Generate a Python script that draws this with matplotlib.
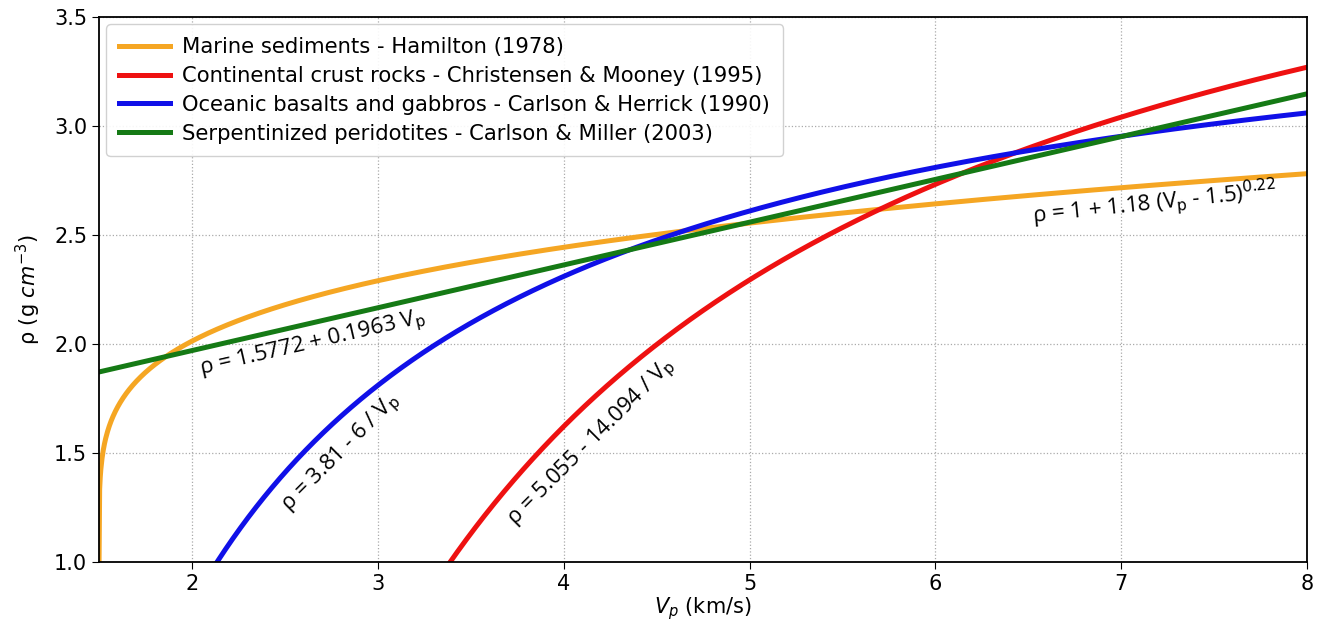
import numpy as np
import matplotlib
matplotlib.use("Agg")
import matplotlib.pyplot as plt

# Empirical Vp - density relations
vp_min, vp_max = 1.5, 8.0
hamilton_coef = [1.0, 1.18, 1.5, 0.22]        # rho = a + b (Vp - c)^d
# red curve: rho = a - b / (Vp + s)
# (the printed label says 5.055 - 14.094/Vp, but the drawn line sits differently)
christensen_traced = [4.814, 11.966, -0.252]
carlson_herrick_coef = [3.81, 6.0]            # rho = a - b / Vp
carlson_miller_coef = [1.5772, 0.1963]        # rho = a + b Vp

labels = [
    "Marine sediments - Hamilton (1978)",
    "Continental crust rocks - Christensen & Mooney (1995)",
    "Oceanic basalts and gabbros - Carlson & Herrick (1990)",
    "Serpentinized peridotites - Carlson & Miller (2003)",
]
colors = ["#f5a623", "#ee1111", "#1010e8", "#157a15"]

vp = np.linspace(vp_min, vp_max, 2000)
a, b, c, d = hamilton_coef
rho_ham = a + b * (vp - c) ** d
ca, cb, cs = christensen_traced
rho_chr = ca - cb / (vp + cs)
rho_ch = carlson_herrick_coef[0] - carlson_herrick_coef[1] / vp
rho_cm = carlson_miller_coef[0] + carlson_miller_coef[1] * vp

fig = plt.figure(figsize=(13.26, 6.3), dpi=100)
ax = fig.add_axes([0.0747, 0.108, 0.911, 0.865])

for rho, col, lab in zip([rho_ham, rho_chr, rho_ch, rho_cm], colors, labels):
    ax.plot(vp, rho, color=col, linewidth=3.6, label=lab)

ax.set_xlim(vp_min, vp_max)
ax.set_ylim(1.0, 3.5)
ax.set_xticks([2, 3, 4, 5, 6, 7, 8])
ax.set_yticks([1.0, 1.5, 2.0, 2.5, 3.0, 3.5])
ax.tick_params(labelsize=15, length=5)
ax.grid(True, linestyle=':', color='#aaaaaa', linewidth=0.9)
for s in ax.spines.values():
    s.set_linewidth(1.3)

ax.set_xlabel("$V_p$ (km/s)", fontsize=15, labelpad=1)
ax.set_ylabel(r"ρ (g $cm^{-3}$)", fontsize=15, labelpad=8)

ax.legend(loc='upper left', fontsize=15.2, handlelength=2.4, borderaxespad=0.35,
          borderpad=0.6, labelspacing=0.42, handletextpad=0.6, framealpha=0.9,
          edgecolor='#cccccc')

ann = dict(fontsize=16, family=['Open Sans', 'DejaVu Sans'], ha='center', va='center',
           rotation_mode='anchor')
ax.text(2.65, 2.0, "ρ = 1.5772 + 0.1963 V$_{\\rm p}$", rotation=13, **ann)
ax.text(2.80, 1.50, "ρ = 3.81 - 6 / V$_{\\rm p}$", rotation=45, **ann)
ax.text(4.15, 1.55, "ρ = 5.055 - 14.094 / V$_{\\rm p}$", rotation=45, **ann)
ax.text(7.18, 2.645, "ρ = 1 + 1.18 (V$_{\\rm p}$ - 1.5)$^{0.22}$", rotation=6, **ann)

fig.savefig("out.png", dpi=100)
